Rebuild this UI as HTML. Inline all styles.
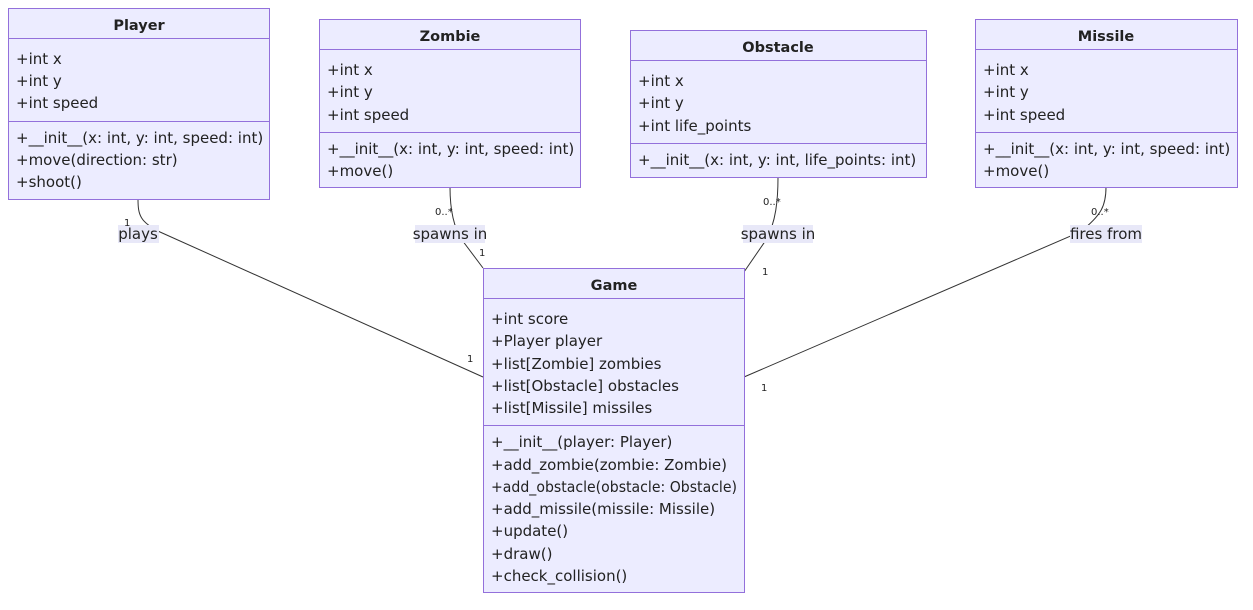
<!DOCTYPE html>
<html><head><style>
html,body{margin:0;padding:0;background:#fff;}
svg text{font-family:"DejaVu Sans","Liberation Sans",sans-serif;fill:#222;}
.t{font-size:14.5px;font-weight:bold;text-anchor:middle;}
.m{font-size:15px;}
.s{font-size:10px;}
.box{fill:#ECECFF;stroke:#9370DB;stroke-width:1;}
.ln{stroke:#9370DB;stroke-width:1;}
.e{fill:none;stroke:#333;stroke-width:1;}
.lb{fill:#E8E8F8;}
</style></head><body>
<svg width="1253" height="605" viewBox="0 0 1253 605" xmlns="http://www.w3.org/2000/svg">
<path class="e" d="M138,199 C138,215 140,222 160,232 L483,377"/>
<path class="e" d="M450,187 C450,205 452,225 462,240 L483,268"/>
<path class="e" d="M778,177 C778,200 776,222 766,240 L744,272"/>
<path class="e" d="M1106,187 C1106,205 1102,215 1080,232 L744,377"/>

<rect class="box" x="8.5" y="8.5" width="261" height="191"/>
<line class="ln" x1="8.5" y1="38.5" x2="269.5" y2="38.5"/>
<line class="ln" x1="8.5" y1="121.5" x2="269.5" y2="121.5"/>
<text class="t" x="139" y="30">Player</text>
<text class="m" x="16" y="64">+int x</text>
<text class="m" x="16" y="86">+int y</text>
<text class="m" x="16" y="108">+int speed</text>
<text class="m" x="16" y="143">+__init__(x: int, y: int, speed: int)</text>
<text class="m" x="16" y="165">+move(direction: str)</text>
<text class="m" x="16" y="187">+shoot()</text>

<rect class="box" x="319.5" y="19.5" width="261" height="168"/>
<line class="ln" x1="319.5" y1="49.5" x2="580.5" y2="49.5"/>
<line class="ln" x1="319.5" y1="132.5" x2="580.5" y2="132.5"/>
<text class="t" x="450" y="41">Zombie</text>
<text class="m" x="327" y="75">+int x</text>
<text class="m" x="327" y="97">+int y</text>
<text class="m" x="327" y="120">+int speed</text>
<text class="m" x="327" y="154">+__init__(x: int, y: int, speed: int)</text>
<text class="m" x="327" y="176">+move()</text>

<rect class="box" x="630.5" y="30.5" width="296" height="147"/>
<line class="ln" x1="630.5" y1="60.5" x2="926.5" y2="60.5"/>
<line class="ln" x1="630.5" y1="143.5" x2="926.5" y2="143.5"/>
<text class="t" x="778" y="52">Obstacle</text>
<text class="m" x="638" y="86">+int x</text>
<text class="m" x="638" y="108">+int y</text>
<text class="m" x="638" y="131">+int life_points</text>
<text class="m" x="638" y="165">+__init__(x: int, y: int, life_points: int)</text>

<rect class="box" x="975.5" y="19.5" width="262" height="168"/>
<line class="ln" x1="975.5" y1="49.5" x2="1237.5" y2="49.5"/>
<line class="ln" x1="975.5" y1="132.5" x2="1237.5" y2="132.5"/>
<text class="t" x="1106" y="41">Missile</text>
<text class="m" x="983" y="75">+int x</text>
<text class="m" x="983" y="97">+int y</text>
<text class="m" x="983" y="120">+int speed</text>
<text class="m" x="983" y="154">+__init__(x: int, y: int, speed: int)</text>
<text class="m" x="983" y="176">+move()</text>

<rect class="box" x="483.5" y="268.5" width="261" height="324"/>
<line class="ln" x1="483.5" y1="298.5" x2="744.5" y2="298.5"/>
<line class="ln" x1="483.5" y1="425.5" x2="744.5" y2="425.5"/>
<text class="t" x="614" y="290">Game</text>
<text class="m" x="491" y="324">+int score</text>
<text class="m" x="491" y="346">+Player player</text>
<text class="m" x="491" y="369">+list[Zombie] zombies</text>
<text class="m" x="491" y="391">+list[Obstacle] obstacles</text>
<text class="m" x="491" y="413">+list[Missile] missiles</text>
<text class="m" x="491" y="447">+__init__(player: Player)</text>
<text class="m" x="491" y="470">+add_zombie(zombie: Zombie)</text>
<text class="m" x="491" y="492" textLength="246" lengthAdjust="spacingAndGlyphs">+add_obstacle(obstacle: Obstacle)</text>
<text class="m" x="491" y="514">+add_missile(missile: Missile)</text>
<text class="m" x="491" y="536">+update()</text>
<text class="m" x="491" y="559">+draw()</text>
<text class="m" x="491" y="581">+check_collision()</text>

<rect class="lb" x="118" y="225" width="41" height="18"/>
<text class="m" x="138" y="239" text-anchor="middle">plays</text>
<rect class="lb" x="415" y="225" width="70" height="18"/>
<text class="m" x="450" y="239" text-anchor="middle">spawns in</text>
<rect class="lb" x="743" y="225" width="70" height="18"/>
<text class="m" x="778" y="239" text-anchor="middle">spawns in</text>
<rect class="lb" x="1070" y="225" width="72" height="18"/>
<text class="m" x="1106" y="239" text-anchor="middle">fires from</text>

<text class="s" x="124" y="226">1</text>
<text class="s" x="467" y="362">1</text>
<text class="s" x="435" y="215">0..*</text>
<text class="s" x="479" y="256">1</text>
<text class="s" x="763" y="205">0..*</text>
<text class="s" x="762" y="275">1</text>
<text class="s" x="1091" y="215">0..*</text>
<text class="s" x="761" y="391">1</text>
</svg>
</body></html>
